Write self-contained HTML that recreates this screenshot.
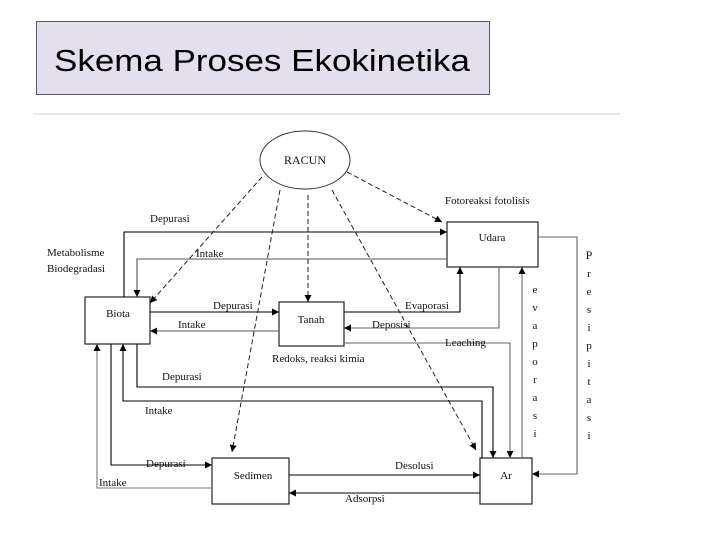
<!DOCTYPE html>
<html><head><meta charset="utf-8"><style>
body{margin:0;background:#fff;width:720px;height:540px;overflow:hidden}
svg{display:block}
text{font-family:"Liberation Serif",serif;font-size:11px;fill:#111}
</style></head><body>
<svg width="720" height="540" viewBox="0 0 720 540">
<defs>
<marker id="a" viewBox="0 0 10 10" refX="10" refY="5" markerWidth="7" markerHeight="7" orient="auto" markerUnits="userSpaceOnUse"><path d="M0,0L10,5L0,10z" fill="#000"/></marker>
</defs>
<rect x="36.5" y="21.5" width="453" height="73" fill="#e4dfec" stroke="#5a5470"/>
<text x="54" y="71" textLength="416" lengthAdjust="spacingAndGlyphs" style="font-family:'Liberation Sans',sans-serif;font-size:31px;fill:#000">Skema Proses Ekokinetika</text>
<line x1="33" y1="114" x2="620" y2="114" stroke="#e6e6e6" stroke-width="2"/>

<ellipse cx="305" cy="160" rx="45" ry="29" fill="#fff" stroke="#333"/>
<text x="305" y="164" text-anchor="middle" style="font-size:12px">RACUN</text>

<g fill="#fff" stroke="#222" stroke-width="1.2">
<rect x="447" y="222" width="91" height="45"/>
<rect x="85" y="297" width="65" height="47"/>
<rect x="279" y="302" width="65" height="44"/>
<rect x="212" y="458" width="77" height="46"/>
<rect x="480" y="458" width="52" height="46"/>
</g>
<text x="492" y="241" text-anchor="middle">Udara</text>
<text x="118" y="317" text-anchor="middle">Biota</text>
<text x="311" y="323" text-anchor="middle">Tanah</text>
<text x="253" y="479" text-anchor="middle">Sedimen</text>
<text x="506" y="479" text-anchor="middle">Ar</text>

<g fill="none" stroke="#000" stroke-width="1.1" marker-end="url(#a)">
<path d="M124 297V232H447"/>
<path d="M447 259H137V297" stroke="#555"/>
<path d="M150 312H279"/>
<path d="M279 331H150" stroke="#555"/>
<path d="M344 312H460V267"/>
<path d="M499 267V328H344" stroke="#666"/>
<path d="M344 343H510V458" stroke="#666"/>
<path d="M522 458V267" stroke="#666"/>
<path d="M538 237H577V474H532" stroke="#666"/>
<path d="M137 344V387H493V458"/>
<path d="M482 458V401H123V344"/>
<path d="M111 344V465H212"/>
<path d="M212 488H97V344" stroke="#777"/>
<path d="M289 475H480"/>
<path d="M480 493H289"/>
</g>
<g fill="none" stroke="#222" stroke-width="1" stroke-dasharray="5,3" marker-end="url(#a)">
<path d="M262 177L150 303"/>
<path d="M308 195V302"/>
<path d="M280 190L232 452"/>
<path d="M347 172L442 222"/>
<path d="M332 190L476 450"/>
</g>

<text x="150" y="222">Depurasi</text>
<text x="47" y="256">Metabolisme</text>
<text x="47" y="272">Biodegradasi</text>
<text x="196" y="257">Intake</text>
<text x="213" y="309">Depurasi</text>
<text x="178" y="328">Intake</text>
<text x="445" y="204">Fotoreaksi fotolisis</text>
<text x="405" y="309">Evaporasi</text>
<text x="372" y="328">Deposisi</text>
<text x="445" y="346">Leaching</text>
<text x="272" y="362">Redoks, reaksi kimia</text>
<text x="162" y="380">Depurasi</text>
<text x="145" y="414">Intake</text>
<text x="146" y="467">Depurasi</text>
<text x="99" y="486">Intake</text>
<text x="395" y="469">Desolusi</text>
<text x="345" y="502">Adsorpsi</text>
<g text-anchor="middle">
<text x="535" y="293">e</text><text x="535" y="311">v</text><text x="535" y="329">a</text><text x="535" y="347">p</text><text x="535" y="365">o</text><text x="535" y="383">r</text><text x="535" y="401">a</text><text x="535" y="419">s</text><text x="535" y="437">i</text>
<text x="589" y="259" style="font-size:12px">P</text><text x="589" y="277">r</text><text x="589" y="295">e</text><text x="589" y="313">s</text><text x="589" y="331">i</text><text x="589" y="349">p</text><text x="589" y="367">i</text><text x="589" y="385">t</text><text x="589" y="403">a</text><text x="589" y="421">s</text><text x="589" y="439">i</text>
</g>
</svg>
</body></html>
